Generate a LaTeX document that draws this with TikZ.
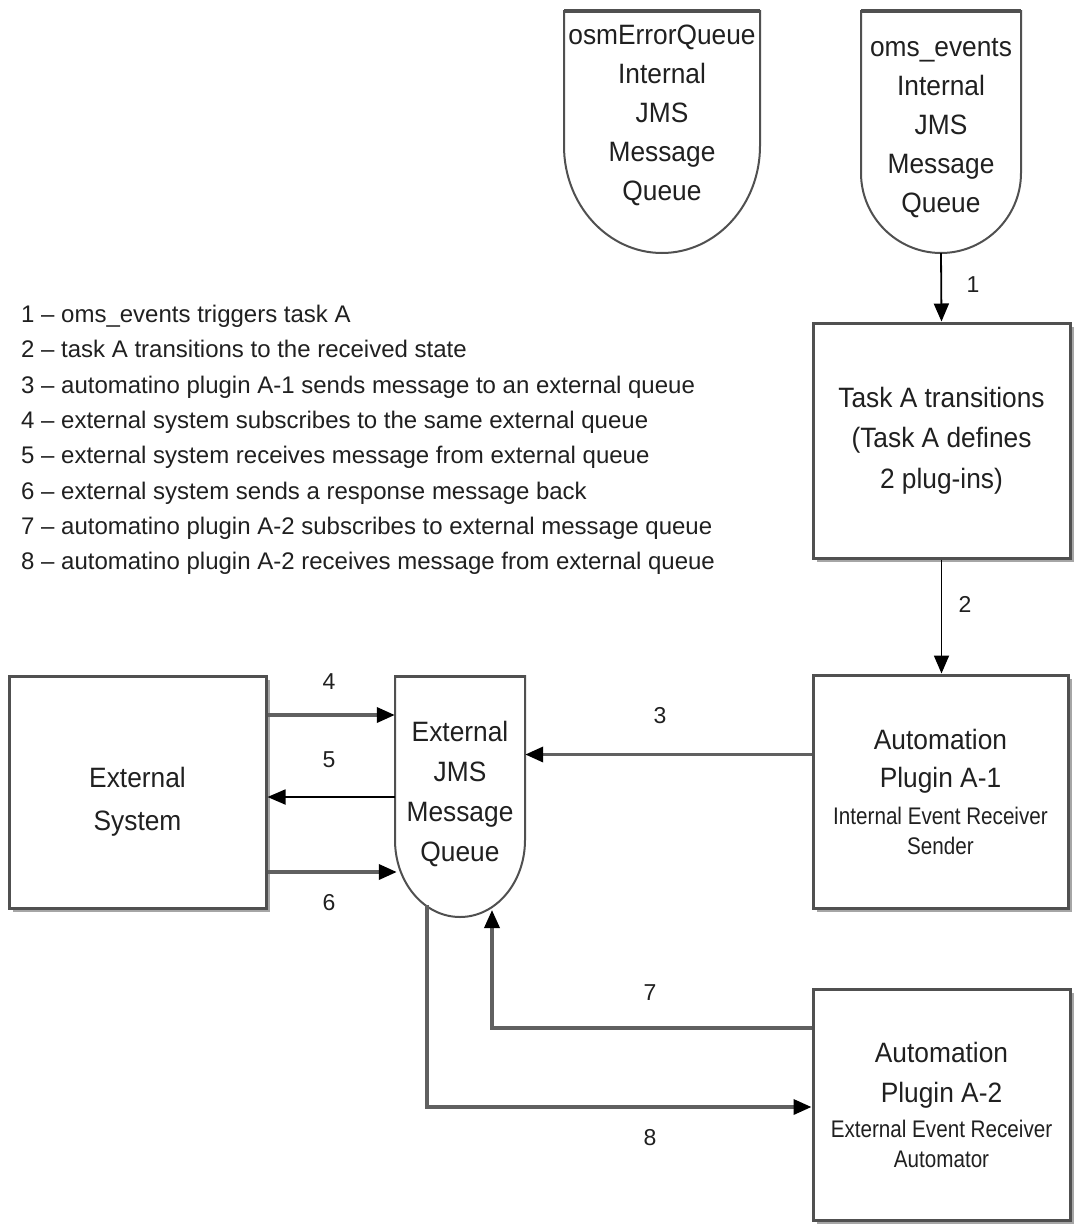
\documentclass[tikz,border=0pt]{standalone}
\usepackage{fontspec}
\setmainfont{Liberation Sans}
\newfontfamily\mainnarrow{Liberation Sans}[FakeStretch=0.94]
\newfontfamily\smallnarrow{Liberation Sans}[FakeStretch=0.86]
\usetikzlibrary{arrows.meta,shadows}
\definecolor{edge}{HTML}{505050}
\definecolor{wire}{HTML}{606060}
\definecolor{ink}{HTML}{202020}
\newcommand\smalltxt[1]{{\fontsize{24}{30}\smallnarrow #1}}
\begin{document}
\begin{tikzpicture}[x=1pt,y=-1pt,
  box/.style={draw=edge, line width=3pt, fill=white, inner sep=0pt,
    drop shadow={shadow xshift=4pt, shadow yshift=-4pt, fill=black, opacity=0.35}},
  qshape/.style={draw=edge, line width=2pt, fill=white},
  qnode/.style={inner sep=0pt, draw=none},
  big/.style={font=\fontsize{28}{40}\mainnarrow, text=ink, align=center},
  lbl/.style={font=\fontsize{23}{28}\selectfont, text=ink, inner sep=0pt},
  conn/.style={draw=wire, line width=3.5pt, -{Triangle[length=18pt,width=15pt,color=black]}},
  connthin/.style={draw=black, line width=1.8pt, -{Triangle[length=18pt,width=15pt,color=black]}},
]
\useasboundingbox[fill=white] (0,0) rectangle (1079,1224);

% queue outlines
\draw[qshape] (564,11) -- (564,146) .. controls (564,205) and (608,253) .. (662,253)
  .. controls (716,253) and (760,205) .. (760,146) -- (760,11) -- cycle;
\draw[qshape] (861,11) -- (861,173) .. controls (861,217) and (897,253) .. (941,253)
  .. controls (985,253) and (1021,217) .. (1021,173) -- (1021,11) -- cycle;
\draw[qshape] (395,676) -- (395,840) .. controls (395,882.5) and (424,917) .. (460,917)
  .. controls (496,917) and (525,882.5) .. (525,840) -- (525,676) -- cycle;
\draw[edge, line width=3.5pt] (564,11) -- (760,11);
\draw[edge, line width=3.5pt] (861,11) -- (1021,11);
\draw[edge, line width=3pt] (395,676) -- (525,676);

\node[qnode, minimum width=196pt, minimum height=242pt] (osmq) at (662,132) {};
\node[qnode, minimum width=160pt, minimum height=242pt] (omsq) at (941,132) {};
\node[qnode, minimum width=130pt, minimum height=241pt] (extq) at (460,796.5) {};

\node[big, font=\fontsize{28}{39}\mainnarrow] (osmtext) at (662,115) {osmErrorQueue\\Internal\\JMS\\Message\\Queue};
\node[big, font=\fontsize{28}{39}\mainnarrow] (omstext) at (941,128) {oms\_events\\Internal\\JMS\\Message\\Queue};
\node[big] (exttext) at (460,794) {External\\JMS\\Message\\Queue};

% boxes
\node[box, minimum width=257pt, minimum height=235pt, big] (taskA) at (941.5,440.5)
  {Task A transitions\\(Task A defines\\[1pt]2 plug-ins)};
\node[box, minimum width=255pt, minimum height=233pt, big] (A1) at (940.5,791.5)
  {Automation\\[-2pt]Plugin A-1\\[-3pt]\smalltxt{Internal Event Receiver}\\[-10pt]\smalltxt{Sender}};
\node[box, minimum width=257pt, minimum height=231pt, big] (A2) at (941.5,1104.5)
  {Automation\\Plugin A-2\\[-5pt]\smalltxt{External Event Receiver}\\[-10pt]\smalltxt{Automator}};
\node[box, minimum width=257pt, minimum height=232pt] (extsys) at (137.5,792) {};
\node[big] (extsystext) at (137.5,802) {External\\[3pt]System};

% legend
\node[anchor=west, align=left, inner sep=0pt, text=ink, font=\fontsize{24}{35.3}\selectfont] (legend) at (21,440) {%
1 – oms\_events triggers task A\\
2 – task A transitions to the received state\\
3 – automatino plugin A-1 sends message to an external queue\\
4 – external system subscribes to the same external queue\\
5 – external system receives message from external queue\\
6 – external system sends a response message back\\
7 – automatino plugin A-2 subscribes to external message queue\\
8 – automatino plugin A-2 receives message from external queue};

% connector end points on the queue bottom
\coordinate (q7) at (492,910);
\coordinate (q8) at (427,905);

% connectors
\draw[connthin] (omsq.south) -- (taskA.north);
\draw[connthin] (taskA.south) -- (taskA.south |- A1.north);
\draw[conn] ([yshift=37pt]A1.west) -- ([yshift=37pt]A1.west -| extq.east);
\draw[conn] ([yshift=77pt]extsys.east) -- ([yshift=77pt]extsys.east -| extq.west);
\draw[connthin] ([yshift=-5pt]extsys.east -| extq.west) -- ([yshift=-5pt]extsys.east);
\draw[conn] ([yshift=-80pt]extsys.east) -- ([yshift=-80pt,xshift=2pt]extsys.east -| extq.west);
\draw[conn] ([yshift=76.5pt]A2.west) -| (q7);
\draw[conn] (q8) |- ([yshift=-2.5pt]A2.west);

% labels
\node[lbl] (l1) at (973,285) {1};
\node[lbl] (l2) at (965,604) {2};
\node[lbl] (l3) at (660,716) {3};
\node[lbl] (l4) at (329,682) {4};
\node[lbl] (l5) at (329,760) {5};
\node[lbl] (l6) at (329,903) {6};
\node[lbl] (l7) at (650,993) {7};
\node[lbl] (l8) at (650,1138) {8};
\end{tikzpicture}
\end{document}
